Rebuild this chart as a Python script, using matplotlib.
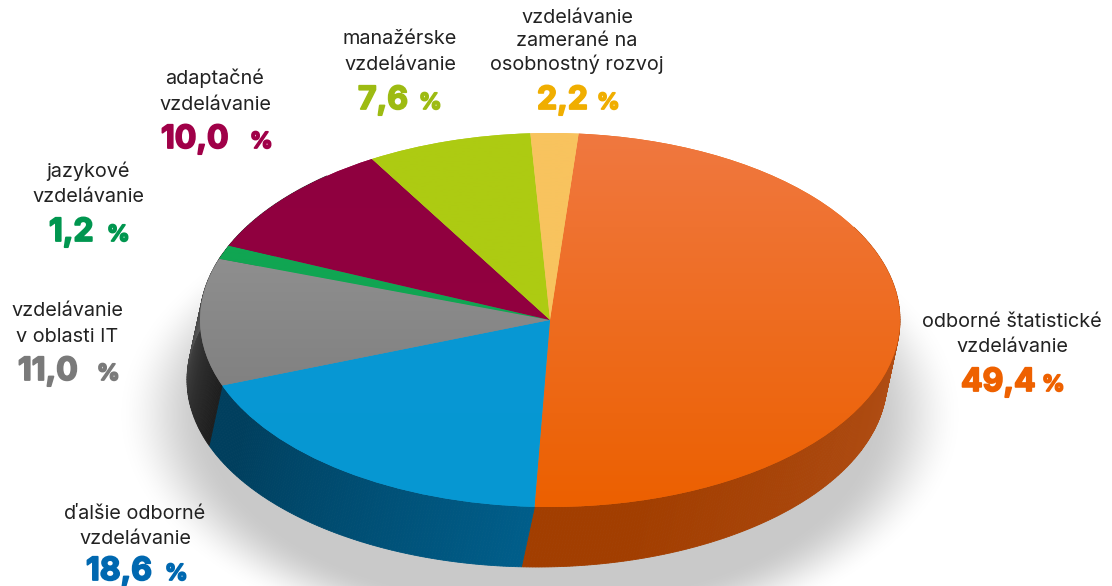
"""Elliptical 3D-look pie of education types, drawn on pixel-fitted data limits."""
import matplotlib
matplotlib.use("Agg")
import matplotlib.patheffects as pe
import matplotlib.pyplot as plt
import numpy as np
from matplotlib.colors import to_rgb

W, H = 1112, 586

names = [
    "odborné štatistické\nvzdelávanie",
    "ďalšie odborné\nvzdelávanie",
    "vzdelávanie\nv oblasti IT",
    "jazykové\nvzdelávanie",
    "adaptačné\nvzdelávanie",
    "manažérske\nvzdelávanie",
    "vzdelávanie\nzamerané na\nosobnostný rozvoj",
]
values = [49.4, 18.6, 11.0, 1.2, 10.0, 7.6, 2.2]
text_colors = ["#EE6100", "#0068B0", "#7A7A7A", "#00964F", "#A00048", "#9DBB12", "#F0AE00"]
top_light = ["#F07840", "#0A97D6", "#9C9C9C", "#10A552", "#8F0040", "#ADCB12", "#F8C35E"]
top_dark = ["#EC6000", "#0698D2", "#747474", "#10A552", "#94003E", "#ADCB12", "#F8C35E"]
wall_light = ["#B5531C", "#005F8C", "#6A6A6A", "#333333", "#333333", "#333333", "#333333"]
wall_dark = ["#A23E00", "#003F5E", "#1E1E1E", "#333333", "#333333", "#333333", "#333333"]

# name centre x, first line baseline y, number left x, % left x, number baseline y
label_x = [1012, 135, 67, 88, 215, 400, 577]
label_y = [327, 519, 316, 177, 84, 44, 23]
num_x = [961, 86, 18, 49, 161, 358, 537]
pct_x = [1042, 165, 97, 107, 250, 419, 597]
num_y = [391, 580, 380, 241, 148, 109, 109]

CX, CY, RX, RY = 550, 320, 350, 187
SHIFT_X, DEPTH = -13, 60
START = 4.7  # degrees clockwise from the top


def px_x(x):
    return (x - CX) / RX


def px_y(y):
    return (CY - y) / RY


fig = plt.figure(figsize=(W / 100, H / 100), dpi=100)
ax = fig.add_axes([0, 0, 1, 1])
limits = (px_x(0), px_x(W)), (px_y(H), px_y(0))

# soft shadow under the disc
xx, yy = np.meshgrid(np.linspace(*limits[0], W), np.linspace(limits[1][1], limits[1][0], H))
d = np.hypot((xx - px_x(540)) * RX / 352, (yy - px_y(415)) * RY / 200)
a = np.clip((1.2 - d) / 0.26, 0, 1)
a = a * a * (3 - 2 * a)
shadow = np.ones((H, W, 4)) * 0.79
shadow[..., 3] = a
ax.imshow(shadow, extent=(*limits[0], *limits[1]), origin="upper", aspect="auto", zorder=0)

# side wall, one thin strip per half degree
edges = START + np.cumsum([0] + values) * 3.6
for i in range(len(values)):
    steps = np.arange(edges[i], edges[i + 1] + 0.5, 0.5)
    lo, hi = np.array(to_rgb(wall_light[i])), np.array(to_rgb(wall_dark[i]))
    for t0, t1 in zip(steps[:-1], steps[1:]):
        t1 = min(t1, edges[i + 1])
        if t0 > 320 or t0 < 60:
            continue
        ts = np.radians([t0, t1])
        top_x, top_y = np.sin(ts), np.cos(ts)
        low_x, low_y = top_x + SHIFT_X / RX, top_y - DEPTH / RY
        if i == 0:
            f = np.clip((t0 - 75) / 90, 0, 1)
        elif i == 1:
            f = np.clip((t0 - 180) / 60, 0, 1)
        else:
            f = np.clip((300 - t0) / 50, 0, 1)
        col = lo + (hi - lo) * f
        ax.fill(
            [top_x[0], top_x[1], low_x[1], low_x[0]],
            [top_y[0], top_y[1], low_y[1], low_y[0]],
            color=col, lw=0.6, zorder=1,
        )

# top face
wedges, _ = ax.pie(
    values, radius=1, center=(0, 0), startangle=90 - START, counterclock=False,
    colors=top_dark, wedgeprops={"linewidth": 0, "zorder": 2},
)
for wedge, light, dark in zip(wedges, top_light, top_dark):
    wedge.set_zorder(2)
    c0, c1 = np.array(to_rgb(light)), np.array(to_rgb(dark))
    ramp = np.linspace(0, 1, 256)[:, None, None]
    grad = c0[None, None, :] + (c1 - c0)[None, None, :] * ramp
    im = ax.imshow(grad, extent=(-1, 1, -1, 1), origin="upper", aspect="auto", zorder=3)
    im.set_clip_path(wedge)

ax.set_aspect("auto")
ax.set_xlim(*limits[0])
ax.set_ylim(*limits[1])
ax.axis("off")

# labels
for i, name in enumerate(names):
    for k, line in enumerate(name.split("\n")):
        y = label_y[i] + k * (25.5 if i != 6 else 23.5)
        fig.text(label_x[i] / W, 1 - y / H, line, ha="center", va="baseline",
                 fontsize=14.3, family="Inter", color="#222222")
    number = f"{values[i]:.1f}".replace(".", ",")
    stroke = [pe.withStroke(linewidth=1.3, foreground=text_colors[i])]
    fig.text(num_x[i] / W, 1 - num_y[i] / H, number, ha="left", va="baseline",
             fontsize=23, family="Inter", weight="bold", color=text_colors[i],
             path_effects=stroke)
    fig.text(pct_x[i] / W, 1 - num_y[i] / H, "%", ha="left", va="baseline",
             fontsize=16, family="Inter", weight="bold", color=text_colors[i],
             path_effects=stroke)

fig.savefig("out.png", dpi=100)
